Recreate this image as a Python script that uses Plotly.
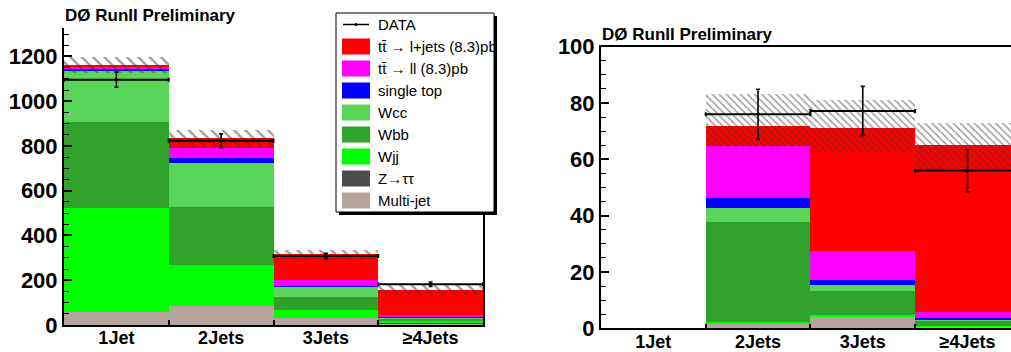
import plotly.graph_objects as go
import numpy as np

W, H = 1011, 352

categories = ["1Jet", "2Jets", "3Jets", "≥4Jets"]
x_pos = [1, 2, 3, 4]

# stacking order bottom -> top
series_names = ["Multi-jet", "Z\u2192\u03c4\u03c4", "Wjj", "Wbb", "Wcc", "single top",
                "tt\u0304 \u2192 ll (8.3)pb", "tt\u0304 \u2192 l+jets (8.3)pb"]
series_colors = ["#b5a49c", "#4d4d4d", "#00ff00", "#2fa22c", "#59d659", "#0000ff",
                 "#ff00ff", "#ff0000"]

# Left panel
left_multijet = [60, 86, 33, 8]
left_ztautau = [0, 0, 0, 1]
left_wjj = [464, 182, 33, 7]
left_wbb = [383, 259, 61, 9]
left_wcc = [229, 198, 45, 9]
left_singletop = [8, 21, 4, 3]
left_ttll = [13, 46, 23, 8]
left_ttlj = [5, 42, 117, 111]
left_data = [1096, 823, 308, 182]
left_data_err = [34, 31, 12, 10]
left_syst = [35, 37, 21, 23]

# Right panel
right_multijet = [0, 1.5, 4.4, 0.8]
right_ztautau = [0, 0, 0, 0]
right_wjj = [0, 0.9, 0.3, 0.2]
right_wbb = [0, 35.5, 8.7, 1.9]
right_wcc = [0, 5.1, 2.0, 0.3]
right_singletop = [0, 3.3, 1.8, 0.5]
right_ttll = [0, 18.4, 10.4, 2.2]
right_ttlj = [0, 7.1, 43.6, 59.2]
right_data = [None, 76.0, 77.2, 56.0]
right_data_err = [0, 8.9, 8.7, 7.5]
right_hatch_low = [0, 64.5, 62.7, 56.8]
right_hatch_high = [0, 83.4, 81.3, 73.0]

left_series = [left_multijet, left_ztautau, left_wjj, left_wbb, left_wcc,
               left_singletop, left_ttll, left_ttlj]
right_series = [right_multijet, right_ztautau, right_wjj, right_wbb, right_wcc,
                right_singletop, right_ttll, right_ttlj]

fig = go.Figure()


def add_stack(series, xa, ya):
    base = np.zeros(len(x_pos))
    for name, vals, col in zip(series_names, series, series_colors):
        v = np.array(vals, dtype=float)
        fig.add_trace(go.Bar(x=x_pos, y=v, base=base.copy(), width=1.0,
                             marker=dict(color=col, line=dict(width=0)),
                             name=name, showlegend=False, xaxis=xa, yaxis=ya))
        base = base + v
    return base


def add_hatch(low, high, xa, ya, size):
    low = np.array(low, dtype=float)
    high = np.array(high, dtype=float)
    fig.add_trace(go.Bar(x=x_pos, y=high - low, base=low, width=1.0,
                         marker=dict(color="rgba(0,0,0,0)", line=dict(width=0),
                                     pattern=dict(shape="\\", fgcolor="#3a3a3a",
                                                  bgcolor="rgba(0,0,0,0)",
                                                  size=size, solidity=0.3,
                                                  fillmode="overlay")),
                         showlegend=False, xaxis=xa, yaxis=ya))


def add_data(vals, errs, xa, ya):
    fig.add_trace(go.Scatter(x=x_pos, y=vals, mode="markers",
                             marker=dict(color="black", size=3),
                             error_y=dict(type="data", array=errs, color="black",
                                          thickness=1.6, width=2),
                             error_x=dict(type="data", array=[0.5] * len(x_pos),
                                          color="black", thickness=2, width=2),
                             showlegend=False, xaxis=xa, yaxis=ya))


left_total = add_stack(left_series, "x", "y")
add_hatch(left_total - np.array(left_syst), left_total + np.array(left_syst), "x", "y", 8)
add_data(left_data, left_data_err, "x", "y")

add_stack(right_series, "x2", "y2")
add_hatch(right_hatch_low, right_hatch_high, "x2", "y2", 5)
add_data(right_data, right_data_err, "x2", "y2")


def px(xp):
    return xp / W


def py(yp):
    return 1 - yp / H


tickfont_y = dict(family="Liberation Sans", size=22, color="black", weight="bold")
tickfont_x = dict(family="Liberation Sans", size=18, color="black", weight="bold")

xaxis_common = dict(tickmode="array", tickvals=x_pos, ticktext=categories,
                    tickfont=tickfont_x, ticks="", showgrid=False, zeroline=False,
                    showline=True, linecolor="black", linewidth=1.5,
                    automargin=False, ticklabelstandoff=-4,
                    minor=dict(tickvals=[1.5, 2.5, 3.5], ticks="inside", ticklen=5,
                               tickcolor="black", tickwidth=1.5))

fig.update_layout(
    width=W, height=H, autosize=False,
    margin=dict(l=0, r=0, t=0, b=0),
    paper_bgcolor="white", plot_bgcolor="white",
    barmode="overlay", bargap=0,
    showlegend=False,
    xaxis=dict(domain=[px(64), px(483)], range=[0.5, 4.5], anchor="y",
               mirror=False, **xaxis_common),
    yaxis=dict(domain=[py(325), py(28)], range=[0, 1327], anchor="x",
               tickmode="linear", tick0=0, dtick=200, tickfont=tickfont_y,
               ticks="inside", ticklen=8, tickwidth=1.5, tickcolor="black",
               showgrid=False, zeroline=False, showline=True, linecolor="black",
               linewidth=2, mirror=True, automargin=False,
               minor=dict(dtick=50, ticks="inside", ticklen=5, tickcolor="black",
                          tickwidth=1.2)),
    xaxis2=dict(domain=[px(601), 1.0], range=[0.5, 4.416], anchor="y2",
                mirror=True, **xaxis_common),
    yaxis2=dict(domain=[py(328.3), py(46.7)], range=[0, 100], anchor="x2",
                tickmode="linear", tick0=0, dtick=20, tickfont=tickfont_y,
                ticks="inside", ticklen=8, tickwidth=1.5, tickcolor="black",
                showgrid=False, zeroline=False, showline=True, linecolor="black",
                linewidth=2, automargin=False,
                minor=dict(dtick=5, ticks="inside", ticklen=5, tickcolor="black",
                           tickwidth=1.2)),
)

title_text = "D\u00d8 RunII Preliminary"
title_font = dict(family="Liberation Sans", size=17, color="black", weight="bold")
fig.add_annotation(x=px(63), y=py(16), xref="paper", yref="paper", text=title_text,
                   showarrow=False, xanchor="left", yanchor="middle", font=title_font)
fig.add_annotation(x=px(600), y=py(35), xref="paper", yref="paper", text=title_text,
                   showarrow=False, xanchor="left", yanchor="middle", font=title_font)

# Legend box (manual, ROOT style)
lx0, lx1, ly0, ly1 = 336, 494, 13, 212
fig.add_shape(type="rect", xref="paper", yref="paper",
              x0=px(lx0 + 3), x1=px(lx1 + 3), y0=py(ly1 + 3), y1=py(ly0 + 3),
              fillcolor="black", line=dict(width=0))
fig.add_shape(type="rect", xref="paper", yref="paper",
              x0=px(lx0), x1=px(lx1), y0=py(ly1), y1=py(ly0),
              fillcolor="white", line=dict(color="black", width=1))

legend_font = dict(family="Liberation Sans", size=15, color="black")
row0, row_h = 24.5, 22.0
# DATA entry
fig.add_shape(type="line", xref="paper", yref="paper",
              x0=px(343), x1=px(369), y0=py(row0), y1=py(row0),
              line=dict(color="black", width=1.5))
fig.add_shape(type="circle", xref="paper", yref="paper",
              x0=px(354.5), x1=px(357.5), y0=py(row0 + 1.5), y1=py(row0 - 1.5),
              fillcolor="black", line=dict(width=0))
fig.add_annotation(x=px(376), y=py(row0), xref="paper", yref="paper", text="DATA",
                   showarrow=False, xanchor="left", yanchor="middle", font=legend_font)
for i, (name, col) in enumerate(zip(series_names[::-1], series_colors[::-1])):
    yc = row0 + row_h * (i + 1)
    fig.add_shape(type="rect", xref="paper", yref="paper",
                  x0=px(342), x1=px(370), y0=py(yc + 8), y1=py(yc - 8),
                  fillcolor=col, line=dict(width=0))
    fig.add_annotation(x=px(376), y=py(yc), xref="paper", yref="paper", text=name,
                       showarrow=False, xanchor="left", yanchor="middle",
                       font=legend_font)

fig.write_html("out.html", config={"displayModeBar": False},
               post_script="document.body.style.margin='0';"
                           "document.body.style.overflow='hidden';")
